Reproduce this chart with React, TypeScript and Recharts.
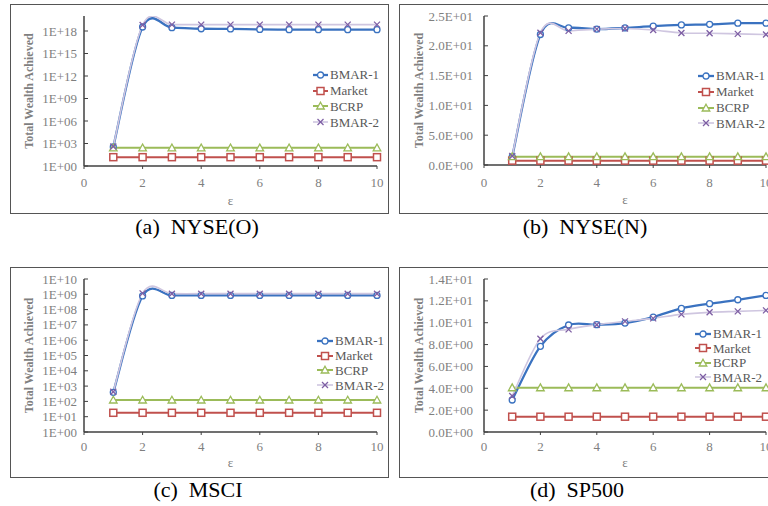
import React from 'react';
import { LineChart, Line, XAxis, YAxis } from 'recharts';

// ---------- data ----------
const epsilon = [1, 2, 3, 4, 5, 6, 7, 8, 9, 10];
const xTicks = [0, 2, 4, 6, 8, 10];
const seriesNames = ['BMAR-1', 'Market', 'BCRP', 'BMAR-2'];

const nyseOBmar1 = [340, 3.4e18, 2.8e18, 2.0e18, 1.9e18, 1.6e18, 1.5e18, 1.5e18, 1.5e18, 1.5e18];
const nyseOMarket = [15, 15, 15, 15, 15, 15, 15, 15, 15, 15];
const nyseOBcrp = [265, 265, 265, 265, 265, 265, 265, 265, 265, 265];
const nyseOBmar2 = [400, 6.3e18, 7e18, 7e18, 7e18, 7e18, 7e18, 7e18, 7e18, 7e18];
const nyseOTicks = [1, 1e3, 1e6, 1e9, 1e12, 1e15, 1e18];

const nyseNBmar1 = [1.4, 21.9, 23.0, 22.8, 23.0, 23.3, 23.5, 23.6, 23.8, 23.8];
const nyseNMarket = [0.73, 0.73, 0.73, 0.73, 0.73, 0.73, 0.73, 0.73, 0.73, 0.73];
const nyseNBcrp = [1.4, 1.4, 1.4, 1.4, 1.4, 1.4, 1.4, 1.4, 1.4, 1.4];
const nyseNBmar2 = [1.5, 22.2, 22.5, 22.8, 22.9, 22.65, 22.15, 22.1, 22.0, 21.9];
const nyseNTicks = [0, 5, 10, 15, 20, 25];

const msciBmar1 = [390, 7.8e8, 8.5e8, 8.5e8, 8.5e8, 8.5e8, 8.5e8, 8.5e8, 8.5e8, 8.5e8];
const msciMarket = [18, 18, 18, 18, 18, 18, 18, 18, 18, 18];
const msciBcrp = [123, 123, 123, 123, 123, 123, 123, 123, 123, 123];
const msciBmar2 = [430, 1.15e9, 1.1e9, 1.1e9, 1.1e9, 1.1e9, 1.1e9, 1.1e9, 1.1e9, 1.1e9];
const msciTicks = [1, 1e1, 1e2, 1e3, 1e4, 1e5, 1e6, 1e7, 1e8, 1e9, 1e10];

const spBmar1 = [2.93, 7.84, 9.79, 9.82, 9.97, 10.52, 11.31, 11.74, 12.1, 12.5];
const spMarket = [1.4, 1.4, 1.4, 1.4, 1.4, 1.4, 1.4, 1.4, 1.4, 1.4];
const spBcrp = [4.05, 4.05, 4.05, 4.05, 4.05, 4.05, 4.05, 4.05, 4.05, 4.05];
const spBmar2 = [3.29, 8.54, 9.39, 9.82, 10.12, 10.4, 10.76, 10.95, 11.04, 11.13];
const spTicks = [0, 2, 4, 6, 8, 10, 12, 14];

const captions = ['(a)  NYSE(O)', '(b)  NYSE(N)', '(c)  MSCI', '(d)  SP500'];

// ---------- helpers ----------
const build = (a: number[], b: number[], c: number[], d: number[]) =>
  epsilon.map((e, i) => ({ eps: e, bmar1: a[i], market: b[i], bcrp: c[i], bmar2: d[i] }));

const pad2 = (n: number) => (n < 10 ? '0' + n : String(n));
const fmtLog = (v: number) => '1E+' + pad2(Math.round(Math.log10(v)));
const fmtSci = (v: number) => {
  if (v === 0) return '0.0E+00';
  const e = Math.floor(Math.log10(v) + 1e-9);
  const m = v / Math.pow(10, e);
  return m.toFixed(1) + 'E+' + pad2(e);
};

const excelSmooth = (context: any) => {
  let pts: number[][] = [];
  return {
    areaStart() {},
    areaEnd() {},
    lineStart() {
      pts = [];
    },
    point(x: number, y: number) {
      pts.push([+x, +y]);
    },
    lineEnd() {
      const n = pts.length;
      if (!n) return;
      context.moveTo(pts[0][0], pts[0][1]);
      if (n === 1) return;
      const k = 1 / 6;
      for (let i = 0; i < n - 1; i++) {
        const p0 = pts[i === 0 ? 0 : i - 1];
        const p1 = pts[i];
        const p2 = pts[i + 1];
        const p3 = pts[i + 2 < n ? i + 2 : n - 1];
        context.bezierCurveTo(
          p1[0] + (p2[0] - p0[0]) * k,
          p1[1] + (p2[1] - p0[1]) * k,
          p2[0] - (p3[0] - p1[0]) * k,
          p2[1] - (p3[1] - p1[1]) * k,
          p2[0],
          p2[1]
        );
      }
    },
  };
};

const BLUE = '#3A72C0';
const RED = '#C0504D';
const GREEN = '#9BBB59';
const PURPLE = '#7E5FA4';
const LAVENDER = '#CFC6E0';
const AXIS = '#404040';
const TICKTXT = '#7F7F7F';
const FONT = '"Liberation Serif", "Times New Roman", serif';

const Marker = ({ kind, cx, cy }: { kind: string; cx: number; cy: number }) => {
  if (kind === 'circle')
    return <circle cx={cx} cy={cy} r={3} fill="#fff" stroke={BLUE} strokeWidth={1.3} />;
  if (kind === 'square')
    return <rect x={cx - 3.5} y={cy - 3.5} width={7} height={7} fill="#fff" stroke={RED} strokeWidth={1.5} />;
  if (kind === 'triangle')
    return (
      <polygon
        points={`${cx},${cy - 3.8} ${cx + 3.8},${cy + 3} ${cx - 3.8},${cy + 3}`}
        fill="#fff"
        stroke={GREEN}
        strokeWidth={1.3}
      />
    );
  return (
    <g stroke={PURPLE} strokeWidth={1.3}>
      <line x1={cx - 3} y1={cy - 3} x2={cx + 3} y2={cy + 3} />
      <line x1={cx - 3} y1={cy + 3} x2={cx + 3} y2={cy - 3} />
    </g>
  );
};

const seriesStyle = [
  { key: 'bmar1', color: BLUE, lineColor: BLUE, width: 2.3, kind: 'circle' },
  { key: 'market', color: RED, lineColor: RED, width: 2, kind: 'square' },
  { key: 'bcrp', color: GREEN, lineColor: GREEN, width: 2, kind: 'triangle' },
  { key: 'bmar2', color: PURPLE, lineColor: LAVENDER, width: 1.6, kind: 'cross' },
];

type PanelProps = {
  data: any[];
  left: number;
  top: number;
  width: number;
  height: number;
  plotLeft: number; // relative to svg
  plotTop: number;
  plotRight: number; // right margin
  plotBottom: number; // space below plot
  log: boolean;
  domain: [number, number];
  ticks: number[];
  fmt: (v: number) => string;
  yGap: number;
  xGap: number;
  xLabelOff: number;
  titleX: number;
  legend: { x: number; y: number; step: number; textX: number };
  caption: string;
  captionX: number;
  captionY: number;
  box: { left: number; top: number; width: number; height: number };
};

const Panel = (p: PanelProps) => {
  const YTick = (props: any) => {
    const { x, y, payload } = props;
    const ax = x + p.yGap;
    return (
      <g>
        <line x1={ax} x2={ax + 4} y1={y} y2={y} stroke={AXIS} strokeWidth={1} />
        <text x={x} y={y} dy="0.35em" textAnchor="end" fill={TICKTXT} fontSize={13} fontFamily={FONT}>
          {p.fmt(payload.value)}
        </text>
      </g>
    );
  };
  const XTick = (props: any) => {
    const { x, y, payload } = props;
    const ay = y - p.xGap;
    return (
      <g>
        <line x1={x} x2={x} y1={ay} y2={ay + 3} stroke={AXIS} strokeWidth={1} />
        <text x={x} y={y} dy="0.35em" textAnchor="middle" fill={TICKTXT} fontSize={13} fontFamily={FONT}>
          {payload.value}
        </text>
      </g>
    );
  };
  const yTitle = (lp: any) => {
    const vb = lp.viewBox || {};
    const cy = vb.y + vb.height / 2;
    return (
      <text
        x={p.titleX}
        y={cy}
        transform={`rotate(-90 ${p.titleX} ${cy})`}
        textAnchor="middle"
        dominantBaseline="central"
        fill={TICKTXT}
        fontSize={12}
        fontWeight="bold"
        fontFamily={FONT}
      >
        Total Wealth Achieved
      </text>
    );
  };
  const xTitle = (lp: any) => {
    const vb = lp.viewBox || {};
    return (
      <text
        x={vb.x + vb.width / 2}
        y={vb.y + p.xLabelOff}
        dy="0.35em"
        textAnchor="middle"
        fill={TICKTXT}
        fontSize={13}
        fontFamily={FONT}
      >
        ε
      </text>
    );
  };
  const xAxisHeight = p.plotBottom - 4;
  return (
    <>
      <div
        style={{
          position: 'absolute',
          left: p.box.left,
          top: p.box.top,
          width: p.box.width,
          height: p.box.height,
          border: '1.5px solid #555',
          boxSizing: 'border-box',
        }}
      />
      <div style={{ position: 'absolute', left: p.left, top: p.top }}>
        <LineChart
          width={p.width}
          height={p.height}
          data={p.data}
          margin={{ top: p.plotTop, right: p.plotRight, bottom: 4, left: 0 }}
        >
          <XAxis
            dataKey="eps"
            type="number"
            domain={[0, 10]}
            ticks={xTicks}
            height={xAxisHeight}
            axisLine={{ stroke: AXIS, strokeWidth: 1.5 }}
            tickLine={false}
            tickSize={0}
            tickMargin={p.xGap}
            tick={XTick}
            interval={0}
            label={{ content: xTitle }}
          />
          <YAxis
            type="number"
            scale={p.log ? 'log' : 'linear'}
            domain={p.domain}
            ticks={p.ticks}
            width={p.plotLeft}
            allowDataOverflow
            axisLine={{ stroke: AXIS, strokeWidth: 1.5 }}
            tickLine={false}
            tickSize={0}
            tickMargin={p.yGap}
            tick={YTick}
            interval={0}
            label={{ content: yTitle }}
          />
          {seriesStyle.map((s) => (
            <Line
              key={s.key}
              dataKey={s.key}
              type={excelSmooth as any}
              stroke={s.lineColor}
              strokeWidth={s.width}
              isAnimationActive={false}
              activeDot={false}
              dot={(dp: any) => (
                <Marker key={`${s.key}-${dp.index}`} kind={s.kind} cx={dp.cx} cy={dp.cy} />
              )}
            />
          ))}
        </LineChart>
      </div>
      <div
        style={{
          position: 'absolute',
          left: p.legend.x,
          top: p.legend.y - p.legend.step / 2,
          fontFamily: FONT,
          fontSize: 13,
          color: '#595959',
          whiteSpace: 'nowrap',
        }}
      >
        {seriesStyle.map((s, i) => (
          <div key={s.key} style={{ height: p.legend.step, display: 'flex', alignItems: 'center' }}>
            <svg width={p.legend.textX - p.legend.x - 2} height={10} style={{ display: 'block' }}>
              <line x1={0} x2={p.legend.textX - p.legend.x - 2} y1={5} y2={5} stroke={s.lineColor} strokeWidth={s.width} />
              <Marker kind={s.kind} cx={(p.legend.textX - p.legend.x - 2) / 2} cy={5} />
            </svg>
            <span style={{ marginLeft: 2, lineHeight: '13px' }}>{seriesNames[i]}</span>
          </div>
        ))}
      </div>
      <div
        style={{
          position: 'absolute',
          left: p.captionX - 100,
          width: 200,
          top: p.captionY - 13,
          height: 26,
          lineHeight: '26px',
          textAlign: 'center',
          fontFamily: FONT,
          fontSize: 22,
          color: '#000',
          whiteSpace: 'pre',
        }}
      >
        {p.caption}
      </div>
    </>
  );
};

export default function App() {
  const dA = build(nyseOBmar1, nyseOMarket, nyseOBcrp, nyseOBmar2);
  const dB = build(nyseNBmar1, nyseNMarket, nyseNBcrp, nyseNBmar2);
  const dC = build(msciBmar1, msciMarket, msciBcrp, msciBmar2);
  const dD = build(spBmar1, spMarket, spBcrp, spBmar2);
  return (
    <div
      style={{
        position: 'absolute',
        left: 0,
        top: 0,
        width: 768,
        height: 506,
        overflow: 'hidden',
        background: '#fff',
      }}
    >
      <Panel
        data={dA}
        left={11}
        top={5}
        width={377}
        height={208}
        plotLeft={73}
        plotTop={11}
        plotRight={11}
        plotBottom={47}
        log
        domain={[1, 1e20]}
        ticks={nyseOTicks}
        fmt={fmtLog}
        yGap={7}
        xGap={16}
        xLabelOff={34}
        titleX={18}
        legend={{ x: 313, y: 75, step: 15.7, textX: 330 }}
        caption={captions[0]}
        captionX={197}
        captionY={227}
        box={{ left: 10, top: 4, width: 379, height: 210 }}
      />
      <Panel
        data={dB}
        left={400}
        top={5}
        width={380}
        height={208}
        plotLeft={84}
        plotTop={11}
        plotRight={14}
        plotBottom={48}
        log={false}
        domain={[0, 25]}
        ticks={nyseNTicks}
        fmt={fmtSci}
        yGap={11}
        xGap={17}
        xLabelOff={34}
        titleX={19}
        legend={{ x: 698, y: 76, step: 15.8, textX: 716 }}
        caption={captions[1]}
        captionX={585}
        captionY={227}
        box={{ left: 399, top: 4, width: 420, height: 210 }}
      />
      <Panel
        data={dC}
        left={11}
        top={268}
        width={377}
        height={209}
        plotLeft={73}
        plotTop={11}
        plotRight={11}
        plotBottom={45}
        log
        domain={[1, 1e10]}
        ticks={msciTicks}
        fmt={fmtLog}
        yGap={7}
        xGap={14}
        xLabelOff={30}
        titleX={18}
        legend={{ x: 317, y: 341, step: 14.7, textX: 335 }}
        caption={captions[2]}
        captionX={198}
        captionY={490}
        box={{ left: 10, top: 267, width: 379, height: 211 }}
      />
      <Panel
        data={dD}
        left={400}
        top={268}
        width={380}
        height={209}
        plotLeft={84}
        plotTop={11}
        plotRight={14}
        plotBottom={45}
        log={false}
        domain={[0, 14]}
        ticks={spTicks}
        fmt={fmtSci}
        yGap={11}
        xGap={14}
        xLabelOff={30}
        titleX={19}
        legend={{ x: 695, y: 334, step: 14.4, textX: 713 }}
        caption={captions[3]}
        captionX={577}
        captionY={490}
        box={{ left: 399, top: 267, width: 420, height: 211 }}
      />
    </div>
  );
}
